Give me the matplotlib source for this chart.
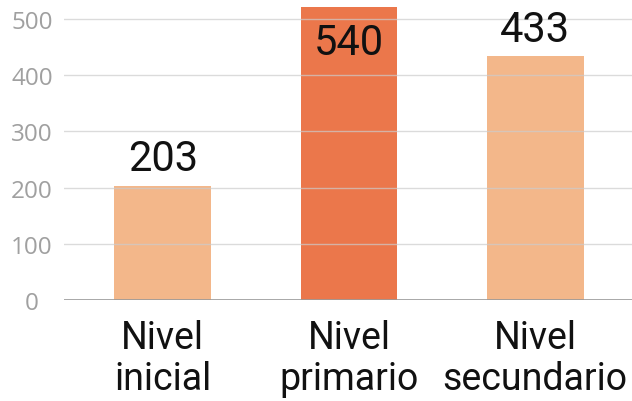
import matplotlib.pyplot as plt

categories = ['Nivel\ninicial', 'Nivel\nprimario', 'Nivel\nsecundario']
values = [203, 540, 433]
colors = ['#F3B78A', '#EB774B', '#F3B78A']
y_ticks = [0, 100, 200, 300, 400, 500]
y_max = 521

fig = plt.figure(figsize=(6.32, 4.02), dpi=100)
ax = fig.add_axes([64 / 632, 101 / 402, 1 - 64 / 632, (402 - 101 - 8) / 402])

x = range(len(categories))
ax.bar(x, values, width=0.52, color=colors, zorder=1)

# gridlines over the bars, faint
for t in y_ticks[1:]:
    ax.axhline(t, color='#cccccc', linewidth=1, alpha=0.7, zorder=2)
ax.axhline(0, color='#9a9a9a', linewidth=1.2, zorder=2)

ax.set_xlim(-0.53, 2.52)
ax.set_ylim(0, y_max)
ax.set_yticks(y_ticks)
ax.set_yticklabels([str(t) for t in y_ticks], family='Open Sans', fontsize=17.5, color='#a0a0a0')
ax.set_xticks(list(x))
ax.set_xticklabels(categories, family='Roboto', fontsize=27, color='#111111', linespacing=1.12)
ax.tick_params(axis='both', length=0)
ax.tick_params(axis='y', pad=23)
ax.tick_params(axis='x', pad=14)
for lbl in ax.get_yticklabels():
    lbl.set_horizontalalignment('center')

for s in ax.spines.values():
    s.set_visible(False)

# value labels
for i, v in enumerate(values):
    if v > y_max:
        ax.annotate(str(v), (i, y_max), xytext=(0, -11), textcoords='offset points',
                    ha='center', va='top', family='Roboto', fontsize=30, color='#111111')
    else:
        ax.annotate(str(v), (i, v), xytext=(0, 5), textcoords='offset points',
                    ha='center', va='bottom', family='Roboto', fontsize=30, color='#111111')

plt.savefig('out.png', dpi=100)
